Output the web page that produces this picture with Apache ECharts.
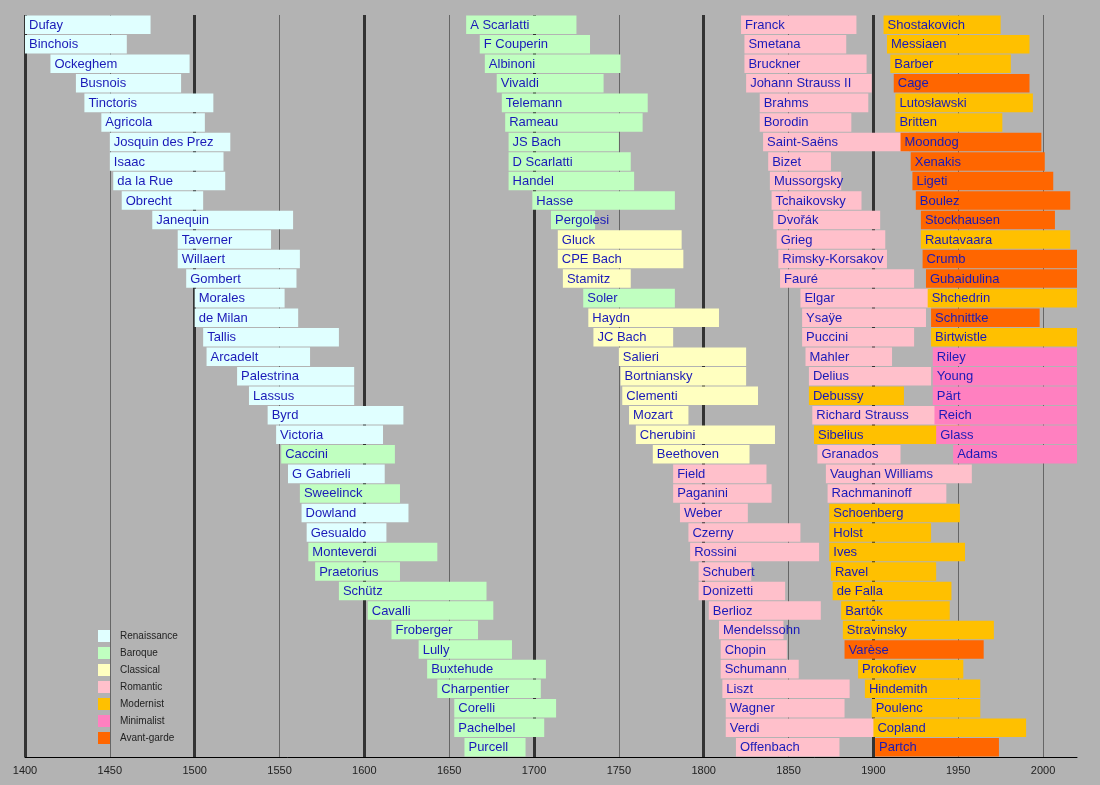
<!DOCTYPE html>
<html><head><meta charset="utf-8">
<script src="https://cdn.jsdelivr.net/npm/echarts@6/dist/echarts.min.js"></script>
<style>html,body{margin:0;padding:0;background:#b3b3b3}#c{width:1100px;height:785px}</style>
</head><body><div id="c"></div>
<script>
// Composers listed column by column (38 rows per column)
const composers = [
 'Dufay','Binchois','Ockeghem','Busnois','Tinctoris','Agricola','Josquin des Prez','Isaac','da la Rue','Obrecht',
 'Janequin','Taverner','Willaert','Gombert','Morales','de Milan','Tallis','Arcadelt','Palestrina','Lassus',
 'Byrd','Victoria','Caccini','G Gabrieli','Sweelinck','Dowland','Gesualdo','Monteverdi','Praetorius','Schütz',
 'Cavalli','Froberger','Lully','Buxtehude','Charpentier','Corelli','Pachelbel','Purcell',
 'A Scarlatti','F Couperin','Albinoni','Vivaldi','Telemann','Rameau','JS Bach','D Scarlatti','Handel','Hasse',
 'Pergolesi','Gluck','CPE Bach','Stamitz','Soler','Haydn','JC Bach','Salieri','Bortniansky','Clementi',
 'Mozart','Cherubini','Beethoven','Field','Paganini','Weber','Czerny','Rossini','Schubert','Donizetti',
 'Berlioz','Mendelssohn','Chopin','Schumann','Liszt','Wagner','Verdi','Offenbach',
 'Franck','Smetana','Bruckner','Johann Strauss II','Brahms','Borodin','Saint-Saëns','Bizet','Mussorgsky','Tchaikovsky',
 'Dvořák','Grieg','Rimsky-Korsakov','Fauré','Elgar','Ysaÿe','Puccini','Mahler','Delius','Debussy',
 'Richard Strauss','Sibelius','Granados','Vaughan Williams','Rachmaninoff','Schoenberg','Holst','Ives','Ravel','de Falla',
 'Bartók','Stravinsky','Varèse','Prokofiev','Hindemith','Poulenc','Copland','Partch',
 'Shostakovich','Messiaen','Barber','Cage','Lutosławski','Britten','Moondog','Xenakis','Ligeti','Boulez',
 'Stockhausen','Rautavaara','Crumb','Gubaidulina','Shchedrin','Schnittke','Birtwistle','Riley','Young','Pärt',
 'Reich','Glass','Adams'
];
const born = [
 1400,1400,1415,1430,1435,1445,1450,1450,1452,1457,
 1475,1490,1490,1495,1500,1500,1505,1507,1525,1532,
 1543,1548,1551,1555,1562,1563,1566,1567,1571,1585,
 1602,1616,1632,1637,1643,1653,1653,1659,
 1660,1668,1671,1678,1681,1683,1685,1685,1685,1699,
 1710,1714,1714,1717,1729,1732,1735,1750,1751,1752,
 1756,1760,1770,1782,1782,1786,1791,1792,1797,1797,
 1803,1809,1810,1810,1811,1813,1813,1819,
 1822,1824,1824,1825,1833,1833,1835,1838,1839,1840,
 1841,1843,1844,1845,1857,1858,1858,1860,1862,1862,
 1864,1865,1867,1872,1873,1874,1874,1874,1875,1876,
 1881,1882,1883,1891,1895,1899,1900,1901,
 1906,1908,1910,1912,1913,1913,1916,1922,1923,1925,
 1928,1928,1929,1931,1932,1934,1934,1935,1935,1935,
 1936,1937,1947
];
const died = [
 1474,1460,1497,1492,1511,1506,1521,1517,1518,1505,
 1558,1545,1562,1560,1553,1561,1585,1568,1594,1594,
 1623,1611,1618,1612,1621,1626,1613,1643,1621,1672,
 1676,1667,1687,1707,1704,1713,1706,1695,
 1725,1733,1751,1741,1767,1764,1750,1757,1759,1783,
 1736,1787,1788,1757,1783,1809,1782,1825,1825,1832,
 1791,1842,1827,1837,1840,1826,1857,1868,1828,1848,
 1869,1847,1849,1856,1886,1883,1901,1880,
 1890,1884,1896,1899,1897,1887,1921,1875,1881,1893,
 1904,1907,1908,1924,1934,1931,1924,1911,1934,1918,
 1949,1957,1916,1958,1943,1951,1934,1954,1937,1946,
 1945,1971,1965,1953,1963,1963,1990,1974,
 1975,1992,1981,1992,1994,1976,1999,2001,2006,2016,
 2007,2016,2020,2020,2020,1998,2020,2020,2020,2020,
 2020,2020,2020
];
// period codes: R Renaissance, B Baroque, C Classical, Ro Romantic, M Modernist, Mi Minimalist, A Avant-garde
const period = [
 'R','R','R','R','R','R','R','R','R','R',
 'R','R','R','R','R','R','R','R','R','R',
 'R','R','B','R','B','R','R','B','B','B',
 'B','B','B','B','B','B','B','B',
 'B','B','B','B','B','B','B','B','B','B',
 'B','C','C','C','B','C','C','C','C','C',
 'C','C','C','Ro','Ro','Ro','Ro','Ro','Ro','Ro',
 'Ro','Ro','Ro','Ro','Ro','Ro','Ro','Ro',
 'Ro','Ro','Ro','Ro','Ro','Ro','Ro','Ro','Ro','Ro',
 'Ro','Ro','Ro','Ro','Ro','Ro','Ro','Ro','Ro','M',
 'Ro','M','Ro','Ro','Ro','M','M','M','M','M',
 'M','M','A','M','M','M','M','A',
 'M','M','M','A','M','M','A','A','A','A',
 'A','M','A','A','M','A','M','Mi','Mi','Mi',
 'Mi','Mi','Mi'
];
const periodCodes = ['R','B','C','Ro','M','Mi','A'];
const periodNames = ['Renaissance','Baroque','Classical','Romantic','Modernist','Minimalist','Avant-garde'];
const periodColors = ['#e0ffff','#c0ffc0','#ffffc0','#ffc0cb','#ffc000','#ff80c0','#ff6600'];
const yearTicks = [1400,1450,1500,1550,1600,1650,1700,1750,1800,1850,1900,1950,2000];
const centuries = [1400,1500,1600,1700,1800,1900];
const ROWS = 38;

const chart = echarts.init(document.getElementById('c'));

function barItem(params, api){
  const s = api.coord([api.value(0), api.value(2)]);
  const e = api.coord([api.value(1), api.value(2)]);
  const h = api.size([0,1])[1];
  return {type:'rect', shape:{x:s[0], y:s[1]-h/2+0.5, width:e[0]-s[0], height:h-1},
          style:{fill: api.visual('color')}};
}
function labelItem(params, api){
  const s = api.coord([api.value(0), api.value(1)]);
  return {type:'text', x:s[0]+4, y:s[1]+0.5,
    style:{text: composers[params.dataIndex], fill:'#1a1ab8',
      font:'13px "Liberation Sans", Arial, sans-serif', verticalAlign:'middle', align:'left'}};
}

const series = [];
periodCodes.forEach((code, pi) => {
  const d = [];
  composers.forEach((n, i) => { if (period[i] === code) d.push([born[i], died[i], i % ROWS]); });
  series.push({type:'custom', name: periodNames[pi], coordinateSystem:'cartesian2d', z:2,
    itemStyle:{color: periodColors[pi]}, renderItem: barItem, encode:{x:[0,1], y:2}, data:d});
});
series.push({type:'custom', name:'labels', coordinateSystem:'cartesian2d', z:3, silent:true,
  renderItem: labelItem, encode:{x:0, y:1}, data: composers.map((n,i)=>[born[i], i % ROWS])});

// century split lines: thick for 1400..1900, none for 2000 (thin one from 50-year axis remains)
const centuryColors = [1400,1500,1600,1700,1800,1900,2000].map(y => centuries.indexOf(y) >= 0 ? '#333333' : 'rgba(0,0,0,0)');

chart.setOption({
  animation:false,
  backgroundColor:'#b3b3b3',
  grid:{left:25, right:23, top:15, bottom:28},
  xAxis:[{type:'value', min:1400, max:2020, interval:50,
    axisLine:{onZero:false, lineStyle:{color:'#000', width:1}}, axisTick:{show:false},
    splitLine:{show:true, showMaxLine:false, lineStyle:{color:'#666666', width:1}},
    axisLabel:{color:'#222', fontSize:11, fontFamily:'"Liberation Sans", Arial, sans-serif', margin:8,
      showMaxLabel:false, formatter: v => yearTicks.indexOf(v) >= 0 ? String(v) : ''}},
   {type:'value', min:1400, max:2020, interval:100, position:'top',
    axisLine:{show:false}, axisTick:{show:false}, axisLabel:{show:false},
    splitLine:{show:true, showMaxLine:false, lineStyle:{color:centuryColors, width:3}}}],
  yAxis:{type:'value', min:-0.5, max:ROWS-0.5, inverse:true, show:false, splitLine:{show:false}},
  legend:{data: periodNames, orient:'vertical', left:98, top:630, padding:0, itemGap:5,
    itemWidth:12, itemHeight:12, icon:'rect', selectedMode:false,
    textStyle:{color:'#222', fontSize:10, fontFamily:'"Liberation Sans", Arial, sans-serif', padding:[0,0,0,5]}},
  series: series
});
</script></body></html>
